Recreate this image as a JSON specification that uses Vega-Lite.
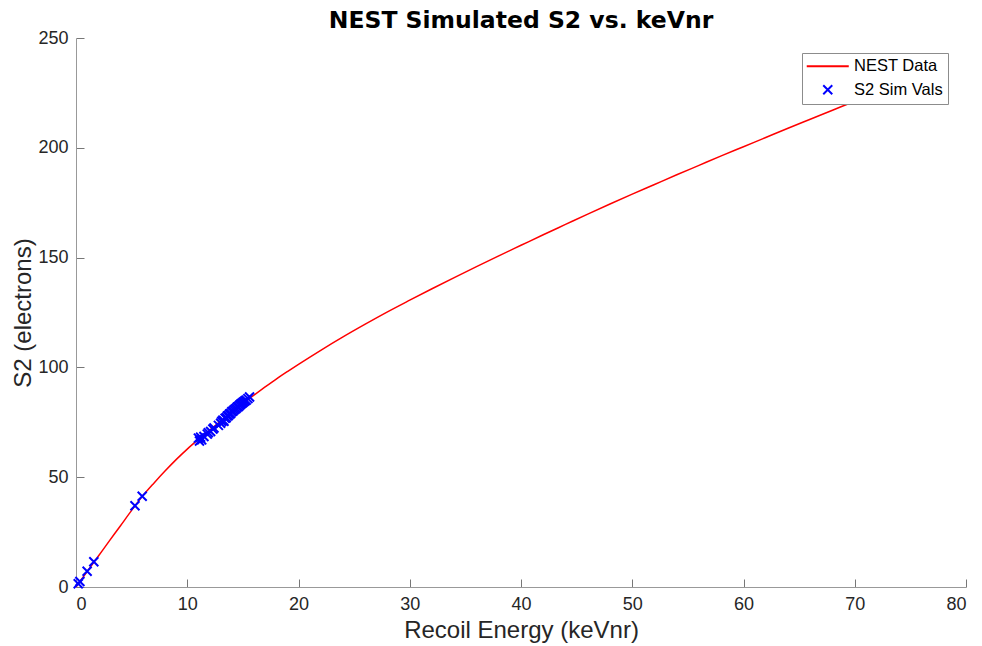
{
  "$schema": "https://vega.github.io/schema/vega-lite/v6.json",
  "width": 890,
  "height": 549,
  "autosize": "none",
  "padding": {"left": 76, "top": 38, "right": 16, "bottom": 59},
  "background": "white",
  "title": {
    "text": "NEST Simulated S2 vs. keVnr",
    "font": "DejaVu Sans",
    "fontSize": 23.5,
    "fontWeight": "bold",
    "color": "#000000",
    "anchor": "middle",
    "frame": "group",
    "offset": -3
  },
  "config": {
    "view": {"stroke": null},
    "axis": {
      "domainColor": "#999999",
      "tickColor": "#777777",
      "domainWidth": 1,
      "tickWidth": 1,
      "tickSize": -8,
      "grid": false,
      "labelFont": "Liberation Sans",
      "labelFontSize": 18,
      "labelColor": "#262626",
      "titleFont": "Liberation Sans",
      "titleFontSize": 24,
      "titleFontWeight": "normal",
      "titleColor": "#262626"
    }
  },
  "datasets": {
    "curve": [
      {"E": 0, "S2": 0, "series": "NEST Data"},
      {"E": 0.5, "S2": 3.5, "series": "NEST Data"},
      {"E": 1, "S2": 7, "series": "NEST Data"},
      {"E": 2, "S2": 14, "series": "NEST Data"},
      {"E": 3, "S2": 21, "series": "NEST Data"},
      {"E": 4, "S2": 27.9, "series": "NEST Data"},
      {"E": 5, "S2": 34.9, "series": "NEST Data"},
      {"E": 6, "S2": 41.5, "series": "NEST Data"},
      {"E": 7, "S2": 47.3, "series": "NEST Data"},
      {"E": 8, "S2": 52.8, "series": "NEST Data"},
      {"E": 9, "S2": 58, "series": "NEST Data"},
      {"E": 10, "S2": 62.8, "series": "NEST Data"},
      {"E": 11, "S2": 67.2, "series": "NEST Data"},
      {"E": 12, "S2": 71.4, "series": "NEST Data"},
      {"E": 13, "S2": 75.5, "series": "NEST Data"},
      {"E": 14, "S2": 79.6, "series": "NEST Data"},
      {"E": 15, "S2": 83.6, "series": "NEST Data"},
      {"E": 16, "S2": 87.4, "series": "NEST Data"},
      {"E": 17, "S2": 91.1, "series": "NEST Data"},
      {"E": 18, "S2": 94.7, "series": "NEST Data"},
      {"E": 19, "S2": 98.1, "series": "NEST Data"},
      {"E": 20, "S2": 101.4, "series": "NEST Data"},
      {"E": 22, "S2": 107.8, "series": "NEST Data"},
      {"E": 24, "S2": 113.9, "series": "NEST Data"},
      {"E": 26, "S2": 119.7, "series": "NEST Data"},
      {"E": 28, "S2": 125.3, "series": "NEST Data"},
      {"E": 30, "S2": 130.6, "series": "NEST Data"},
      {"E": 32, "S2": 135.8, "series": "NEST Data"},
      {"E": 34, "S2": 140.9, "series": "NEST Data"},
      {"E": 36, "S2": 145.9, "series": "NEST Data"},
      {"E": 38, "S2": 150.8, "series": "NEST Data"},
      {"E": 40, "S2": 155.6, "series": "NEST Data"},
      {"E": 42, "S2": 160.4, "series": "NEST Data"},
      {"E": 44, "S2": 165.1, "series": "NEST Data"},
      {"E": 46, "S2": 169.8, "series": "NEST Data"},
      {"E": 48, "S2": 174.4, "series": "NEST Data"},
      {"E": 50, "S2": 178.9, "series": "NEST Data"},
      {"E": 52, "S2": 183.3, "series": "NEST Data"},
      {"E": 54, "S2": 187.7, "series": "NEST Data"},
      {"E": 56, "S2": 192, "series": "NEST Data"},
      {"E": 58, "S2": 196.3, "series": "NEST Data"},
      {"E": 60, "S2": 200.5, "series": "NEST Data"},
      {"E": 62, "S2": 204.7, "series": "NEST Data"},
      {"E": 64, "S2": 208.9, "series": "NEST Data"},
      {"E": 66, "S2": 213, "series": "NEST Data"},
      {"E": 68, "S2": 217.1, "series": "NEST Data"},
      {"E": 70, "S2": 221.2, "series": "NEST Data"},
      {"E": 72, "S2": 225.2, "series": "NEST Data"}
    ],
    "sim": [
      {"E": 0.2, "S2": 1.5, "series": "S2 Sim Vals"},
      {"E": 0.35, "S2": 2.5, "series": "S2 Sim Vals"},
      {"E": 1.0, "S2": 7.2, "series": "S2 Sim Vals"},
      {"E": 1.6, "S2": 11.5, "series": "S2 Sim Vals"},
      {"E": 5.3, "S2": 37.0, "series": "S2 Sim Vals"},
      {"E": 5.95, "S2": 41.3, "series": "S2 Sim Vals"},
      {"E": 11.0, "S2": 67.8, "series": "S2 Sim Vals"},
      {"E": 11.1, "S2": 66.5, "series": "S2 Sim Vals"},
      {"E": 11.2, "S2": 68.2, "series": "S2 Sim Vals"},
      {"E": 11.3, "S2": 67.0, "series": "S2 Sim Vals"},
      {"E": 11.5, "S2": 68.5, "series": "S2 Sim Vals"},
      {"E": 11.8, "S2": 69.6, "series": "S2 Sim Vals"},
      {"E": 11.9, "S2": 70.3, "series": "S2 Sim Vals"},
      {"E": 12.1, "S2": 70.8, "series": "S2 Sim Vals"},
      {"E": 12.3, "S2": 71.9, "series": "S2 Sim Vals"},
      {"E": 12.4, "S2": 72.4, "series": "S2 Sim Vals"},
      {"E": 12.8, "S2": 73.6, "series": "S2 Sim Vals"},
      {"E": 13.0, "S2": 74.6, "series": "S2 Sim Vals"},
      {"E": 13.1, "S2": 75.4, "series": "S2 Sim Vals"},
      {"E": 13.2, "S2": 76.0, "series": "S2 Sim Vals"},
      {"E": 13.3, "S2": 75.5, "series": "S2 Sim Vals"},
      {"E": 13.4, "S2": 76.8, "series": "S2 Sim Vals"},
      {"E": 13.5, "S2": 77.1, "series": "S2 Sim Vals"},
      {"E": 13.6, "S2": 77.9, "series": "S2 Sim Vals"},
      {"E": 13.7, "S2": 78.1, "series": "S2 Sim Vals"},
      {"E": 13.8, "S2": 78.8, "series": "S2 Sim Vals"},
      {"E": 13.9, "S2": 79.0, "series": "S2 Sim Vals"},
      {"E": 14.0, "S2": 79.8, "series": "S2 Sim Vals"},
      {"E": 14.1, "S2": 80.1, "series": "S2 Sim Vals"},
      {"E": 14.2, "S2": 80.6, "series": "S2 Sim Vals"},
      {"E": 14.3, "S2": 81.0, "series": "S2 Sim Vals"},
      {"E": 14.4, "S2": 81.4, "series": "S2 Sim Vals"},
      {"E": 14.5, "S2": 82.0, "series": "S2 Sim Vals"},
      {"E": 14.6, "S2": 82.2, "series": "S2 Sim Vals"},
      {"E": 14.7, "S2": 82.8, "series": "S2 Sim Vals"},
      {"E": 14.8, "S2": 83.2, "series": "S2 Sim Vals"},
      {"E": 14.9, "S2": 83.6, "series": "S2 Sim Vals"},
      {"E": 15.0, "S2": 84.0, "series": "S2 Sim Vals"},
      {"E": 15.1, "S2": 84.4, "series": "S2 Sim Vals"},
      {"E": 15.2, "S2": 84.8, "series": "S2 Sim Vals"},
      {"E": 15.3, "S2": 85.1, "series": "S2 Sim Vals"},
      {"E": 15.45, "S2": 85.8, "series": "S2 Sim Vals"},
      {"E": 15.6, "S2": 86.5, "series": "S2 Sim Vals"}
    ]
  },
  "encoding": {
    "x": {
      "field": "E",
      "type": "quantitative",
      "title": "Recoil Energy (keVnr)",
      "scale": {"domain": [0, 80], "nice": false, "zero": false},
      "axis": {"values": [0, 10, 20, 30, 40, 50, 60, 70, 80], "labelPadding": 16.5, "titlePadding": 5}
    },
    "y": {
      "field": "S2",
      "type": "quantitative",
      "title": "S2 (electrons)",
      "scale": {"domain": [0, 250], "nice": false, "zero": false},
      "axis": {"values": [0, 50, 100, 150, 200, 250], "labelPadding": 16, "titlePadding": 2}
    },
    "color": {
      "field": "series",
      "type": "nominal",
      "scale": {"domain": ["NEST Data", "S2 Sim Vals"], "range": ["#ff0000", "#0000ff"]},
      "legend": {
        "title": null,
        "orient": "none",
        "legendX": 726,
        "legendY": 15,
        "strokeColor": "#8c8c8c",
        "fillColor": "#ffffff",
        "padding": 5,
        "labelFont": "Liberation Sans",
        "labelFontSize": 16.5,
        "labelColor": "#000000",
        "labelOffset": 18,
        "symbolOffset": 12.5,
        "symbolSize": 81,
        "symbolStrokeWidth": 2,
        "rowPadding": 5.5
      }
    }
  },
  "layer": [
    {
      "data": {"name": "curve"},
      "mark": {"type": "line", "strokeWidth": 1.5, "interpolate": "monotone"}
    },
    {
      "data": {"name": "sim"},
      "mark": {"type": "point", "filled": false, "strokeWidth": 2, "opacity": 1, "size": 81},
      "encoding": {
        "shape": {
          "field": "series",
          "type": "nominal",
          "scale": {"domain": ["NEST Data", "S2 Sim Vals"], "range": ["M-4.67,0L4.67,0", "M-1,-1L1,1M1,-1L-1,1"]},
          "legend": {"title": null}
        }
      }
    }
  ]
}
